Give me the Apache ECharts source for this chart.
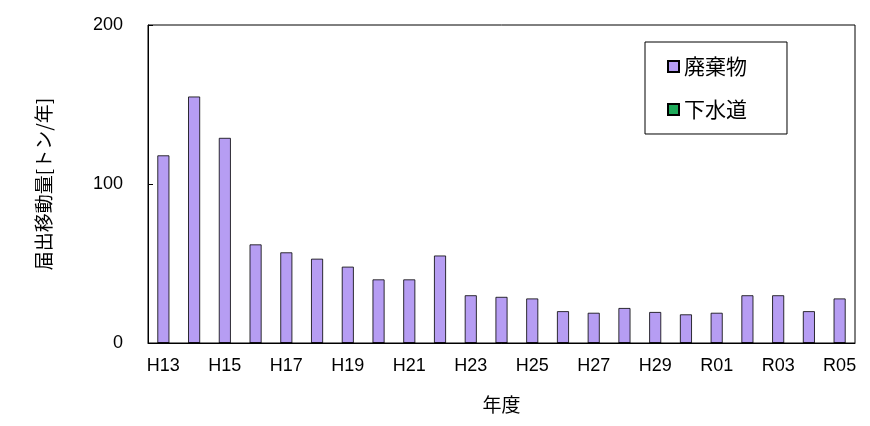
<!DOCTYPE html>
<html><head><meta charset="utf-8">
<script src="https://cdn.jsdelivr.net/npm/echarts@6/dist/echarts.min.js"></script>
<style>html,body{margin:0;background:#fff}#c{width:870px;height:426px}</style>
</head><body><div id="c"></div>
<script>
const categories = ['H13','H14','H15','H16','H17','H18','H19','H20','H21','H22','H23','H24','H25','H26','H27','H28','H29','H30','R01','R02','R03','R04','R05'];
const haikibutsu = [118,155,129,62,57,53,48,40,40,55,30,29,28,20,19,22,19.5,18,19,30,30,20,28];
const gesuido = [0,0,0,0,0,0,0,0,0,0,0,0,0,0,0,0,0,0,0,0,0,0,0];
const yTicks = [0,100,200];
const F = '"Noto Sans CJK JP","Noto Sans",sans-serif';
const chart = echarts.init(document.getElementById('c'));
chart.setOption({
  animation:false,
  textStyle:{fontFamily:F},
  grid:{left:148,right:15,top:25,bottom:83,show:true,borderColor:'#000',borderWidth:1},
  legend:{orient:'vertical',left:645,top:42,padding:[14,40,14,22],itemGap:22,
    borderColor:'#000',borderWidth:1,itemWidth:11,itemHeight:11,
    textStyle:{fontSize:21,color:'#000',fontFamily:F},
    data:[{name:'廃棄物',icon:'rect'},{name:'下水道',icon:'rect'}]},
  xAxis:{type:'category',data:categories,name:'年度',nameLocation:'middle',nameGap:52,
    nameTextStyle:{fontSize:19,color:'#000'},
    axisLine:{lineStyle:{color:'#000'}},axisTick:{inside:true,lineStyle:{color:'#000'}},
    axisLabel:{interval:1,fontSize:18,color:'#000',margin:14,fontFamily:'Liberation Sans'}},
  yAxis:{type:'value',min:0,max:200,interval:100,name:'届出移動量[トン/年]',nameLocation:'middle',nameGap:95,
    nameTextStyle:{fontSize:19,color:'#000'},
    splitLine:{show:false},axisLine:{show:true,lineStyle:{color:'#000'}},
    axisTick:{show:true,inside:true,lineStyle:{color:'#000'}},
    axisLabel:{fontSize:18,color:'#000',margin:25,fontFamily:'Liberation Sans'}},
  series:[
    {name:'廃棄物',type:'bar',data:haikibutsu,barWidth:12,barGap:'-100%',
      itemStyle:{color:'#B69DF3',borderColor:'#000',borderWidth:0.8}},
    {name:'下水道',type:'bar',data:gesuido,barWidth:12,
      itemStyle:{color:'#1EAA5A',borderColor:'#000',borderWidth:0.8}}
  ]
});
</script></body></html>
